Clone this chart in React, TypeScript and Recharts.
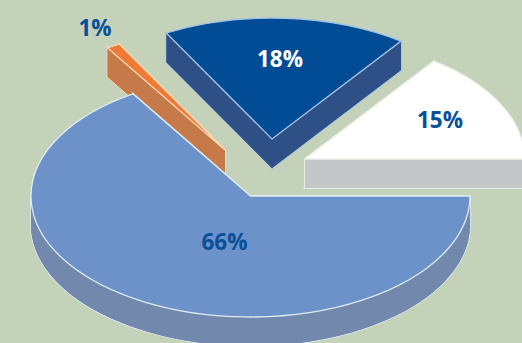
import { PieChart, Pie } from "recharts";

const BG = "#c3d2b8";
const TILT = 121 / 219.5;
const DEPTH = 29;

// drawn back to front, going counter-clockwise from 3 o'clock
const slices = ["Other", "Second", "Small", "Main"];
const shares = [15, 18, 1, 66];

const topColors = ["#ffffff", "#024c95", "#ee7a35", "#6d91c9"];
const sideColors = ["#c5c6c8", "#2f5087", "#c67a4a", "#7388ad"];
const edgeColors = ["#eef2ea", "#a6c3e4", "#f8d8b4", "#dcecf2"];
const labelColors = ["#07509a", "#ffffff", "#07509a", "#07509a"];

// how far each slice is pulled out of the pie
const offsetX = [54.5, 21.5, -25.5, 0];
const offsetY = [-37, -57, -46, 0];
const labelX = [440, 280, 95, 224.5];
const labelY = [128, 67, 36, 250];

const chartData = slices.map((name, i) => ({ name, value: shares[i] }));

const rad = (a: number) => (a * Math.PI) / 180;

const SliceShape = (props: any) => {
  const { cx, cy, outerRadius, startAngle, endAngle, index } = props;
  const x0 = cx + offsetX[index];
  const y0 = cy + offsetY[index];
  const rx = outerRadius;
  const ry = outerRadius * TILT;
  const a1 = Math.min(startAngle, endAngle);
  const a2 = Math.max(startAngle, endAngle);
  const px = (a: number) => x0 + rx * Math.cos(rad(a));
  const py = (a: number, d = 0) => y0 - ry * Math.sin(rad(a)) + d;

  const arc = (from: number, to: number, d = 0) =>
    `A${rx},${ry} 0 ${Math.abs(to - from) > 180 ? 1 : 0} ${to > from ? 0 : 1} ${px(to)},${py(to, d)}`;

  const face = (d: number) =>
    `M${x0},${y0 + d}L${px(a1)},${py(a1, d)}${arc(a1, a2, d)}Z`;
  const radial = (a: number) =>
    `M${x0},${y0}L${px(a)},${py(a)}L${px(a)},${py(a, DEPTH)}L${x0},${y0 + DEPTH}Z`;

  const sidePaths = [face(DEPTH), radial(a1), radial(a2)];
  const wallFrom = Math.max(a1, 180);
  if (a2 > wallFrom) {
    sidePaths.push(
      `M${px(wallFrom)},${py(wallFrom)}${arc(wallFrom, a2)}L${px(a2)},${py(a2, DEPTH)}${arc(a2, wallFrom, DEPTH)}Z`
    );
  }
  const side = sidePaths.join("");

  return (
    <g>
      <path d={side} fill={sideColors[index]} stroke={edgeColors[index]} strokeWidth={1.6} />
      {sidePaths.map((d, i) => (
        <path key={i} d={d} fill={sideColors[index]} />
      ))}
      <path d={face(0)} fill={topColors[index]} stroke={edgeColors[index]} strokeWidth={1.3} />
    </g>
  );
};

const renderLabel = (props: any) => {
  const { index, value } = props;
  return (
    <text
      x={labelX[index]}
      y={labelY[index]}
      textAnchor="middle"
      fill={labelColors[index]}
      fontFamily="'Open Sans', sans-serif"
      fontWeight={700}
      fontSize={22.5}
    >
      {value}%
    </text>
  );
};

export default function App() {
  return (
    <div
      style={{
        position: "absolute",
        left: 0,
        top: 0,
        width: 522,
        height: 343,
        overflow: "hidden",
        background: BG,
      }}
    >
      <PieChart width={522} height={343} margin={{ top: 0, right: 0, bottom: 0, left: 0 }}>
        <Pie
          data={chartData}
          dataKey="value"
          nameKey="name"
          cx={250.5}
          cy={196}
          innerRadius={0}
          outerRadius={219.5}
          startAngle={0}
          endAngle={360}
          paddingAngle={0}
          stroke="none"
          shape={SliceShape}
          label={renderLabel}
          labelLine={false}
          isAnimationActive={false}
        />
      </PieChart>
    </div>
  );
}
